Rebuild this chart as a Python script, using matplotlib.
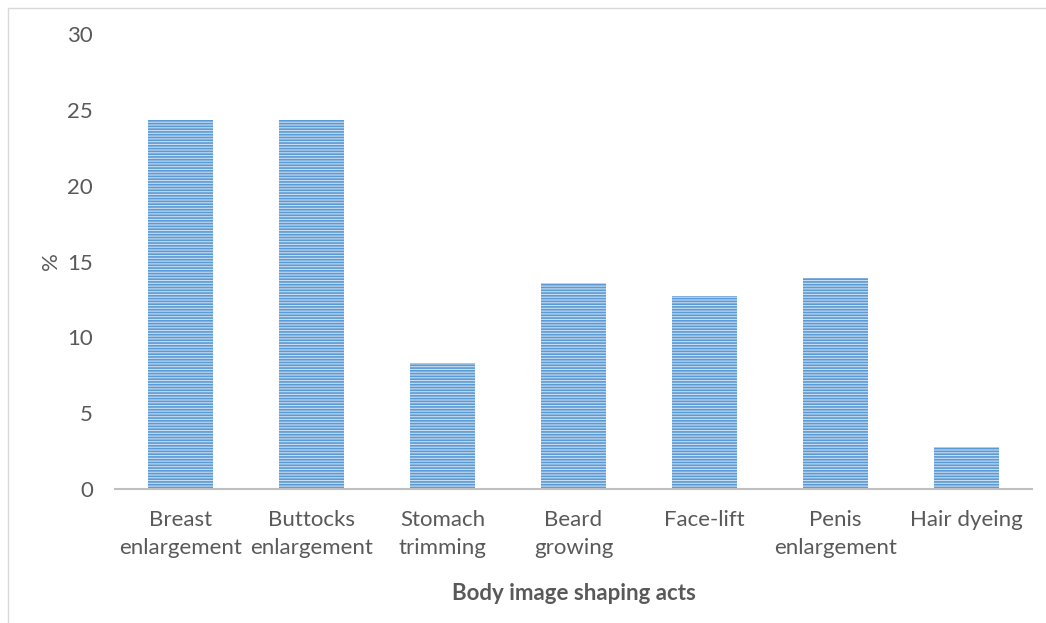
import matplotlib

matplotlib.use("Agg")
import matplotlib.pyplot as plt
import numpy as np
from matplotlib.patches import Rectangle

plt.rcParams["font.family"] = ["Lato", "DejaVu Sans"]
plt.rcParams["hatch.linewidth"] = 1.2

categories = [
    "Breast\nenlargement",
    "Buttocks\nenlargement",
    "Stomach\ntrimming",
    "Beard\ngrowing",
    "Face-lift",
    "Penis\nenlargement",
    "Hair dyeing",
]
percent = [24.3, 24.3, 8.3, 13.6, 12.7, 13.9, 2.8]
y_ticks = [0, 5, 10, 15, 20, 25, 30]

BAR_FACE = "#c9ddf2"
BAR_HATCH = "#5b9bd5"
TEXT = "#595959"
FS = 16

fig = plt.figure(figsize=(10.46, 6.23), dpi=100)
# thin chart-area frame along the top and left edges
fig.patches.append(Rectangle((8 / 1046, -0.1), 1.2, 1.1 - 8 / 623,
                             transform=fig.transFigure, fill=False,
                             edgecolor="#d9d9d9", linewidth=1.0))

ax = fig.add_axes([115 / 1046, 1 - 489 / 623, (1032 - 115) / 1046, (489 - 34) / 623])
x = np.arange(len(categories))
ax.bar(x, percent, width=0.5, color=BAR_FACE, edgecolor=BAR_HATCH,
       hatch="------", linewidth=0)

ax.set_xlim(-0.5, len(categories) - 0.5)
ax.set_ylim(0, 30)
ax.set_yticks(y_ticks)
ax.set_xticks(x)
ax.set_xticklabels(categories, fontsize=FS, color=TEXT, linespacing=1.5)
ax.tick_params(axis="y", labelsize=FS, labelcolor=TEXT, length=0, pad=16)
ax.tick_params(axis="x", length=0, pad=15)

for side in ("top", "right", "left"):
    ax.spines[side].set_visible(False)
ax.spines["bottom"].set_color("#bfbfbf")
ax.spines["bottom"].set_linewidth(1.5)

ax.set_ylabel("%", fontsize=FS, color=TEXT, labelpad=4)
ax.set_xlabel("Body image shaping acts", fontsize=FS, color=TEXT,
              fontweight="bold", labelpad=18)

fig.savefig("out.png", dpi=100, facecolor="white")
